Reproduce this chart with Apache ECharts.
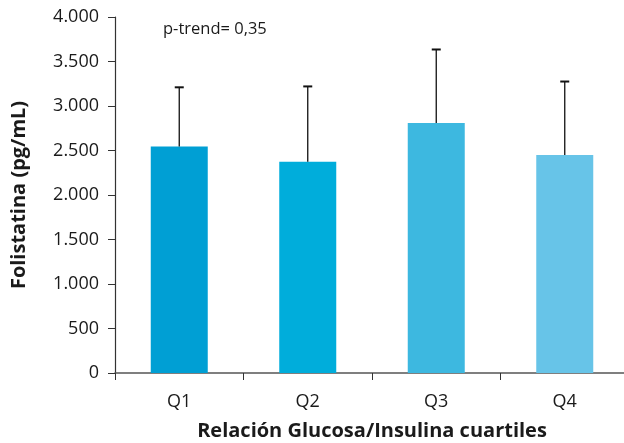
<!DOCTYPE html>
<html>
<head>
<meta charset="utf-8">
<script src="https://cdn.jsdelivr.net/npm/echarts@6/dist/echarts.min.js"></script>
<style>
  html, body { margin: 0; padding: 0; background: #fff; }
  #chart { width: 624px; height: 443px; }
</style>
</head>
<body>
<div id="chart"></div>
<script>
// Folistatina by glucose/insulin ratio quartile (mean and upper SD)
const categories = ['Q1', 'Q2', 'Q3', 'Q4'];
const means = [2545, 2375, 2810, 2450];
const upper = [3210, 3220, 3635, 3275];
const barColors = ['#009fd4', '#00addb', '#3db8e0', '#67c4e8'];
const yTicks = [0, 500, 1000, 1500, 2000, 2500, 3000, 3500, 4000];

const FONT = '"Open Sans", "Noto Sans", sans-serif';

function thousands(v) {
  return String(v).replace(/\B(?=(\d{3})+(?!\d))/g, '.');
}

const chart = echarts.init(document.getElementById('chart'), null, { renderer: 'canvas' });

chart.setOption({
  animation: false,
  grid: { left: 115, right: -5, top: 17, bottom: 70, outerBoundsMode: 'none', containLabel: false },
  graphic: [{
    type: 'text',
    left: 163,
    top: 21,
    style: { text: 'p-trend= 0,35', font: '16.5px ' + FONT, fill: '#1a1a1a' }
  }],
  xAxis: {
    type: 'category',
    data: categories,
    name: 'Relación Glucosa/Insulina cuartiles',
    nameLocation: 'middle',
    nameGap: 48,
    nameTextStyle: { fontFamily: FONT, fontWeight: 'bold', fontSize: 20, color: '#1a1a1a' },
    axisLine: { lineStyle: { color: '#555', width: 1.5 } },
    axisTick: { show: true, length: 7, lineStyle: { color: '#333' } },
    axisLabel: { fontFamily: FONT, fontSize: 18, color: '#1a1a1a', margin: 20 }
  },
  yAxis: {
    type: 'value',
    min: 0,
    max: 4000,
    interval: 500,
    name: 'Folistatina (pg/mL)',
    nameLocation: 'middle',
    nameGap: 86,
    nameRotate: 90,
    nameTextStyle: { fontFamily: FONT, fontWeight: 'bold', fontSize: 20, color: '#1a1a1a' },
    axisLine: { show: true, lineStyle: { color: '#333', width: 1.2 } },
    axisTick: { show: true, length: 7, lineStyle: { color: '#333' } },
    splitLine: { show: false },
    axisLabel: {
      fontFamily: FONT, fontSize: 18, color: '#1a1a1a', margin: 16,
      formatter: v => yTicks.includes(v) ? thousands(v) : ''
    }
  },
  series: [
    {
      type: 'bar',
      barWidth: 57,
      data: means.map((v, i) => ({ value: v, itemStyle: { color: barColors[i] } })),
      z: 2
    },
    {
      type: 'custom',
      data: categories.map((c, i) => [i, means[i], upper[i]]),
      z: 3,
      renderItem: function (params, api) {
        const x = api.coord([api.value(0), api.value(1)])[0];
        const yLow = api.coord([api.value(0), api.value(1)])[1];
        const yHigh = api.coord([api.value(0), api.value(2)])[1];
        return {
          type: 'group',
          children: [
            { type: 'line', shape: { x1: x, y1: yLow, x2: x, y2: yHigh },
              style: { stroke: '#111', lineWidth: 1.3 } },
            { type: 'line', shape: { x1: x - 4.5, y1: yHigh, x2: x + 4.5, y2: yHigh },
              style: { stroke: '#111', lineWidth: 2 } }
          ]
        };
      }
    }
  ]
});
</script>
</body>
</html>
